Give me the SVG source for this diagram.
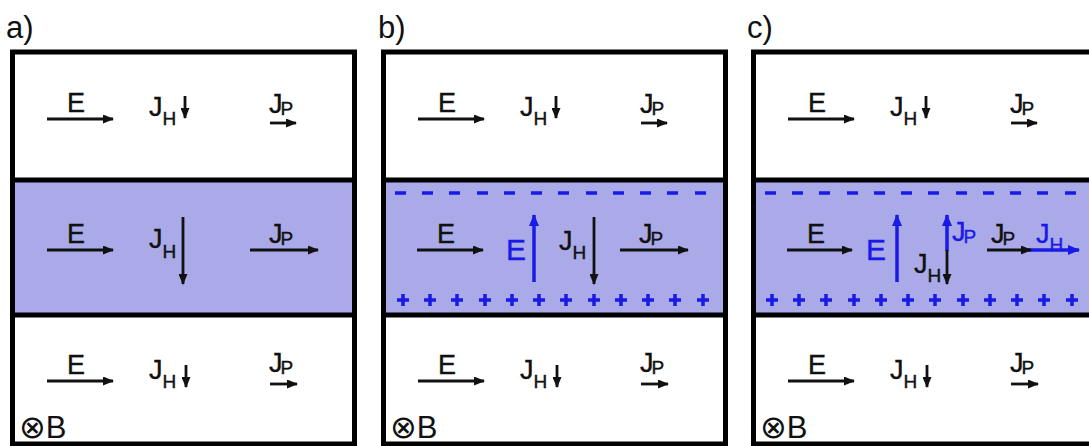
<svg xmlns="http://www.w3.org/2000/svg" width="1089" height="446" viewBox="0 0 1089 446">
<defs>
<marker id="ah" markerUnits="userSpaceOnUse" markerWidth="11" markerHeight="9" refX="10" refY="4.5" orient="auto"><path d="M0,0L11,4.5L0,9z" fill="#111"/></marker>
<marker id="ahb" markerUnits="userSpaceOnUse" markerWidth="12" markerHeight="10" refX="11" refY="5" orient="auto"><path d="M0,0L12,5L0,10z" fill="#1a1ae6"/></marker>
</defs>
<style>
.t{font-family:"Liberation Sans",Arial,sans-serif;font-size:27px;fill:#111;stroke:#111;stroke-width:0.4}
.s{font-size:19px}
.bt{fill:#1a1ae6;stroke:#1a1ae6}
.big{font-size:30px}
.ln{stroke:#111;stroke-width:2.8;fill:none;marker-end:url(#ah)}
.lb{stroke:#1a1ae6;stroke-width:3.5;fill:none;marker-end:url(#ahb)}
.box{fill:none;stroke:#000;stroke-width:5}
.band{fill:#aaaae8}
.ch{stroke:#1a1ae6;stroke-width:3.5;fill:none}
.lab{font-family:"Liberation Sans",Arial,sans-serif;font-size:31px;fill:#111}
.ot{font-family:"DejaVu Sans",sans-serif;font-size:32px}
</style>

<g id="panel-a">
  <text class="lab" x="6" y="38">a)</text>
  <rect class="band" x="12.5" y="180" width="342" height="135"/>
  <rect class="box" x="12.5" y="52" width="342" height="392"/>
  <line class="box" x1="12.5" y1="180" x2="354.5" y2="180"/>
  <line class="box" x1="12.5" y1="315" x2="354.5" y2="315"/>
  <g id="a-top">
    <text class="t" x="67" y="112">E</text>
    <text class="t" x="149" y="116">J<tspan class="s" dy="9">H</tspan></text>
    <text class="t" x="269" y="113">J<tspan class="s" dx="-2" dy="2">P</tspan></text>
  </g>
  <g id="a-mid">
    <text class="t" x="67" y="243">E</text>
    <text class="t" x="149" y="248">J<tspan class="s" dy="10">H</tspan></text>
    <text class="t" x="269" y="243">J<tspan class="s" dx="-2" dy="2">P</tspan></text>
  </g>
  <g id="a-bot">
    <text class="t" x="67" y="374">E</text>
    <text class="t" x="149" y="379">J<tspan class="s" dy="9">H</tspan></text>
    <text class="t" x="269" y="372">J<tspan class="s" dx="-2" dy="2">P</tspan></text>
    <text class="lab" x="19" y="438"><tspan class="ot">⊗</tspan>B</text>
  </g>
</g>

<g id="panel-b">
  <text class="lab" x="378" y="38">b)</text>
  <rect class="band" x="383.5" y="180" width="342" height="135"/>
  <rect class="box" x="383.5" y="52" width="342" height="392"/>
  <line class="box" x1="383.5" y1="180" x2="725.5" y2="180"/>
  <line class="box" x1="383.5" y1="315" x2="725.5" y2="315"/>
  <g id="b-top" transform="translate(371,0)">
    <text class="t" x="67" y="112">E</text>
    <text class="t" x="149" y="116">J<tspan class="s" dy="9">H</tspan></text>
    <text class="t" x="269" y="113">J<tspan class="s" dx="-2" dy="2">P</tspan></text>
  </g>
  <g id="b-mid">
    <path class="ch" d="M395,193h11M422,193h11M449,193h11M477,193h11M504,193h11M531,193h11M558,193h11M586,193h11M613,193h11M640,193h11M667,193h11M695,193h11"/>
    <path class="ch" d="M397,300h12M403,294v12M424,300h12M430,294v12M451,300h12M457,294v12M479,300h12M485,294v12M506,300h12M512,294v12M533,300h12M539,294v12M560,300h12M566,294v12M588,300h12M594,294v12M615,300h12M621,294v12M642,300h12M648,294v12M669,300h12M675,294v12M697,300h12M703,294v12"/>
    <text class="t" x="437" y="243">E</text>
    <text class="t bt big" x="506" y="260">E</text>
    <text class="t" x="559" y="250">J<tspan class="s" dy="9">H</tspan></text>
    <text class="t" x="639" y="243">J<tspan class="s" dx="-2" dy="2">P</tspan></text>
  </g>
  <g id="b-bot" transform="translate(371,0)">
    <text class="t" x="67" y="374">E</text>
    <text class="t" x="149" y="379">J<tspan class="s" dy="9">H</tspan></text>
    <text class="t" x="269" y="372">J<tspan class="s" dx="-2" dy="2">P</tspan></text>
    <text class="lab" x="19" y="438"><tspan class="ot">⊗</tspan>B</text>
  </g>
</g>

<g id="panel-c">
  <text class="lab" x="747" y="38">c)</text>
  <rect class="band" x="753.5" y="180" width="342" height="135"/>
  <rect class="box" x="753.5" y="52" width="342" height="392"/>
  <line class="box" x1="753.5" y1="180" x2="1095.5" y2="180"/>
  <line class="box" x1="753.5" y1="315" x2="1095.5" y2="315"/>
  <g id="c-top" transform="translate(741,0)">
    <text class="t" x="67" y="112">E</text>
    <text class="t" x="149" y="116">J<tspan class="s" dy="9">H</tspan></text>
    <text class="t" x="269" y="113">J<tspan class="s" dx="-2" dy="2">P</tspan></text>
  </g>
  <g id="c-mid">
    <path class="ch" d="M765,193h11M792,193h11M819,193h11M847,193h11M874,193h11M901,193h11M928,193h11M956,193h11M983,193h11M1010,193h11M1037,193h11M1065,193h11"/>
    <path class="ch" d="M766,300h12M772,294v12M793,300h12M799,294v12M820,300h12M826,294v12M848,300h12M854,294v12M875,300h12M881,294v12M902,300h12M908,294v12M929,300h12M935,294v12M957,300h12M963,294v12M984,300h12M990,294v12M1011,300h12M1017,294v12M1038,300h12M1044,294v12M1066,300h12M1072,294v12"/>
    <text class="t" x="807" y="243">E</text>
    <text class="t bt big" x="866" y="260">E</text>
    <text class="t bt" x="952" y="241">J<tspan class="s" dx="-2" dy="2">P</tspan></text>
    <text class="t" x="914" y="273">J<tspan class="s" dy="9">H</tspan></text>
    <text class="t" x="991" y="243">J<tspan class="s" dx="-2" dy="2">P</tspan></text>
    <text class="t bt" x="1036" y="243">J<tspan class="s" dy="8">H</tspan></text>
  </g>
  <g id="c-bot" transform="translate(741,0)">
    <text class="t" x="67" y="374">E</text>
    <text class="t" x="149" y="379">J<tspan class="s" dy="9">H</tspan></text>
    <text class="t" x="269" y="372">J<tspan class="s" dx="-2" dy="2">P</tspan></text>
    <text class="lab" x="19" y="438"><tspan class="ot">⊗</tspan>B</text>
  </g>
</g>

<g id="connectors">
  <g id="conn-a">
    <line class="ln" x1="47" y1="119" x2="113" y2="119"/>
    <line class="ln" x1="185" y1="96" x2="185" y2="118"/>
    <line class="ln" x1="270" y1="123" x2="296" y2="123"/>
    <line class="ln" x1="47" y1="250" x2="113" y2="250"/>
    <line class="ln" x1="183" y1="217" x2="183" y2="284"/>
    <line class="ln" x1="250" y1="250" x2="318" y2="250"/>
    <line class="ln" x1="47" y1="381" x2="113" y2="381"/>
    <line class="ln" x1="186" y1="365" x2="186" y2="387"/>
    <line class="ln" x1="270" y1="384" x2="297" y2="384"/>
  </g>
  <g id="conn-b">
    <line class="ln" x1="418" y1="119" x2="484" y2="119"/>
    <line class="ln" x1="556" y1="96" x2="556" y2="118"/>
    <line class="ln" x1="641" y1="123" x2="667" y2="123"/>
    <line class="ln" x1="417" y1="250" x2="483" y2="250"/>
    <line class="lb" x1="534" y1="282" x2="534" y2="215"/>
    <line class="ln" x1="594" y1="217" x2="594" y2="284"/>
    <line class="ln" x1="620" y1="250" x2="688" y2="250"/>
    <line class="ln" x1="418" y1="381" x2="484" y2="381"/>
    <line class="ln" x1="557" y1="365" x2="557" y2="387"/>
    <line class="ln" x1="641" y1="384" x2="668" y2="384"/>
  </g>
  <g id="conn-c">
    <line class="ln" x1="788" y1="119" x2="854" y2="119"/>
    <line class="ln" x1="926" y1="96" x2="926" y2="118"/>
    <line class="ln" x1="1011" y1="123" x2="1037" y2="123"/>
    <line class="ln" x1="787" y1="250" x2="852" y2="250"/>
    <line class="lb" x1="897" y1="282" x2="897" y2="215"/>
    <line class="lb" x1="947" y1="251" x2="947" y2="215"/>
    <line class="ln" x1="947" y1="250" x2="947" y2="284"/>
    <line class="lb" x1="1028" y1="250" x2="1079" y2="250"/>
    <line class="ln" x1="987" y1="250" x2="1031" y2="250"/>
    <line class="ln" x1="788" y1="381" x2="854" y2="381"/>
    <line class="ln" x1="927" y1="365" x2="927" y2="387"/>
    <line class="ln" x1="1011" y1="384" x2="1038" y2="384"/>
  </g>
</g>
</svg>
